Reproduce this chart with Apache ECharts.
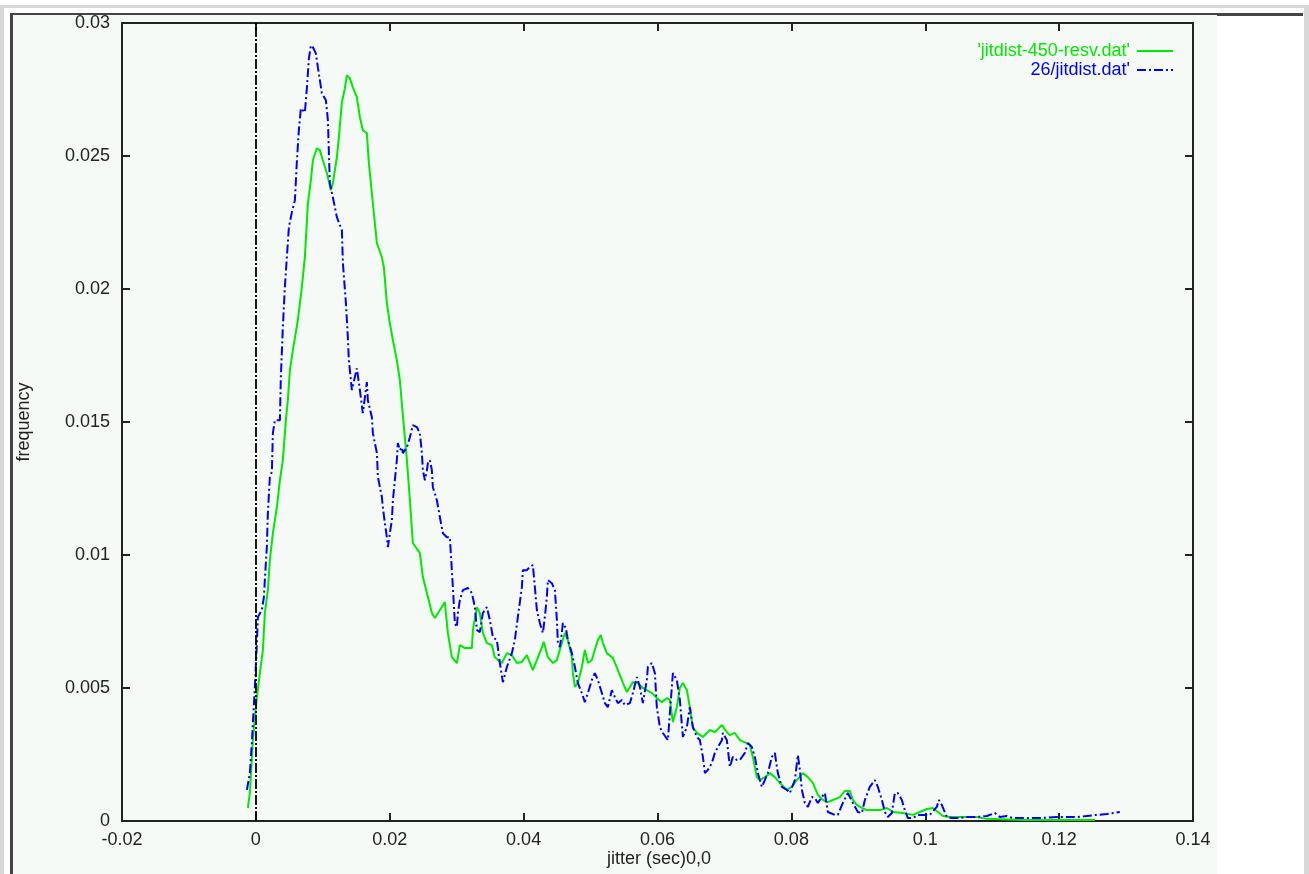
<!DOCTYPE html>
<html>
<head>
<meta charset="utf-8">
<script src="https://cdn.jsdelivr.net/npm/echarts@6/dist/echarts.min.js"></script>
<style>
html,body{margin:0;padding:0;background:#fff;width:1309px;height:874px;overflow:hidden;}
.d{position:absolute;}
#chart{position:absolute;left:0;top:0;width:1309px;height:874px;}
</style>
</head>
<body>
<div class="d" style="left:0;top:5px;width:1309px;height:3px;background:#d8d8d8"></div>
<div class="d" style="left:0;top:5px;width:4px;height:869px;background:#d8d8d8"></div>
<div class="d" style="left:1304px;top:5px;width:5px;height:869px;background:#d8d8d8"></div>
<div class="d" style="left:10px;top:14px;width:1207px;height:860px;background:#f5faf6"></div>
<div class="d" style="left:10px;top:13px;width:1207px;height:2px;background:#444"></div>
<div class="d" style="left:1217px;top:13px;width:86px;height:3px;background:#444"></div>
<div class="d" style="left:10px;top:13px;width:3px;height:861px;background:#444"></div>
<div id="chart"></div>
<script>
// x tick positions (sec) and y tick positions (frequency)
const xTicks = [-0.02, 0, 0.02, 0.04, 0.06, 0.08, 0.1, 0.12, 0.14];
const yTicks = [0, 0.005, 0.01, 0.015, 0.02, 0.025, 0.03];
const seriesNames = ["'jitdist-450-resv.dat'", "26/jitdist.dat'"];
const xLabel = "jitter (sec)0,0";
const yLabel = "frequency";

// 'jitdist-450-resv.dat' : [jitter (sec), frequency]
const greenData = [[-0.00120,0.00049],[-0.00090,0.00105],[-0.00045,0.00304],[0.00015,0.00466],[0.00060,0.00556],[0.00105,0.00643],[0.00134,0.00782],[0.00179,0.00868],[0.00209,0.00981],[0.00254,0.01082],[0.00314,0.01180],[0.00359,0.01281],[0.00403,0.01357],[0.00448,0.01507],[0.00478,0.01582],[0.00508,0.01695],[0.00553,0.01770],[0.00627,0.01883],[0.00687,0.02007],[0.00732,0.02120],[0.00777,0.02322],[0.00822,0.02409],[0.00852,0.02484],[0.00911,0.02529],[0.00956,0.02522],[0.01001,0.02484],[0.01061,0.02435],[0.01120,0.02371],[0.01150,0.02398],[0.01210,0.02495],[0.01240,0.02570],[0.01285,0.02702],[0.01330,0.02755],[0.01359,0.02803],[0.01404,0.02792],[0.01449,0.02758],[0.01509,0.02721],[0.01554,0.02646],[0.01598,0.02597],[0.01658,0.02586],[0.01688,0.02473],[0.01733,0.02360],[0.01778,0.02247],[0.01808,0.02172],[0.01882,0.02120],[0.01912,0.02082],[0.01957,0.01947],[0.02002,0.01871],[0.02047,0.01808],[0.02106,0.01732],[0.02151,0.01657],[0.02196,0.01526],[0.02256,0.01357],[0.02301,0.01206],[0.02345,0.01045],[0.02450,0.01007],[0.02495,0.00917],[0.02570,0.00842],[0.02629,0.00782],[0.02674,0.00763],[0.02749,0.00793],[0.02823,0.00823],[0.02868,0.00707],[0.02928,0.00616],[0.03003,0.00594],[0.03048,0.00661],[0.03122,0.00650],[0.03227,0.00650],[0.03242,0.00718],[0.03302,0.00804],[0.03346,0.00782],[0.03391,0.00707],[0.03451,0.00669],[0.03526,0.00661],[0.03570,0.00616],[0.03615,0.00605],[0.03675,0.00594],[0.03750,0.00631],[0.03824,0.00624],[0.03899,0.00594],[0.03974,0.00598],[0.04048,0.00624],[0.04138,0.00567],[0.04198,0.00605],[0.04273,0.00654],[0.04302,0.00673],[0.04362,0.00616],[0.04437,0.00594],[0.04497,0.00605],[0.04571,0.00669],[0.04616,0.00707],[0.04661,0.00680],[0.04721,0.00616],[0.04736,0.00556],[0.04766,0.00504],[0.04810,0.00519],[0.04870,0.00579],[0.04915,0.00643],[0.04960,0.00594],[0.05019,0.00605],[0.05064,0.00643],[0.05109,0.00680],[0.05154,0.00699],[0.05184,0.00669],[0.05244,0.00631],[0.05333,0.00613],[0.05408,0.00567],[0.05483,0.00519],[0.05542,0.00485],[0.05587,0.00504],[0.05632,0.00522],[0.05707,0.00519],[0.05781,0.00500],[0.05841,0.00492],[0.05916,0.00481],[0.05990,0.00462],[0.06065,0.00447],[0.06140,0.00462],[0.06185,0.00455],[0.06230,0.00372],[0.06289,0.00428],[0.06334,0.00500],[0.06379,0.00519],[0.06439,0.00492],[0.06483,0.00428],[0.06528,0.00353],[0.06588,0.00331],[0.06678,0.00316],[0.06782,0.00342],[0.06857,0.00334],[0.06962,0.00361],[0.07036,0.00334],[0.07081,0.00323],[0.07156,0.00331],[0.07230,0.00304],[0.07335,0.00293],[0.07380,0.00286],[0.07425,0.00241],[0.07484,0.00165],[0.07529,0.00154],[0.07604,0.00165],[0.07679,0.00180],[0.07753,0.00165],[0.07828,0.00143],[0.07932,0.00117],[0.08007,0.00128],[0.08082,0.00154],[0.08172,0.00180],[0.08246,0.00165],[0.08321,0.00143],[0.08396,0.00098],[0.08470,0.00079],[0.08545,0.00071],[0.08620,0.00079],[0.08724,0.00090],[0.08799,0.00113],[0.08874,0.00113],[0.08919,0.00079],[0.08978,0.00060],[0.09053,0.00049],[0.09128,0.00041],[0.09322,0.00041],[0.09426,0.00049],[0.09516,0.00034],[0.09665,0.00030],[0.09815,0.00023],[0.09919,0.00034],[0.10024,0.00045],[0.10114,0.00049],[0.10188,0.00034],[0.10263,0.00019],[0.10367,0.00015],[0.10562,0.00015],[0.10771,0.00015],[0.10920,0.00008],[0.11458,0.00004],[0.11966,0.00004],[0.12534,0.00004]];

// '26/jitdist.dat' : [jitter (sec), frequency]
const blueData = [[-0.00134,0.00117],[-0.00090,0.00180],[-0.00060,0.00293],[-0.00045,0.00368],[-0.00015,0.00504],[0.00015,0.00669],[0.00030,0.00767],[0.00090,0.00793],[0.00120,0.00842],[0.00134,0.00906],[0.00164,0.01030],[0.00179,0.01157],[0.00209,0.01293],[0.00239,0.01312],[0.00254,0.01458],[0.00284,0.01507],[0.00359,0.01507],[0.00373,0.01669],[0.00403,0.01856],[0.00433,0.02007],[0.00463,0.02120],[0.00493,0.02232],[0.00538,0.02289],[0.00583,0.02334],[0.00612,0.02477],[0.00642,0.02597],[0.00672,0.02679],[0.00732,0.02664],[0.00762,0.02755],[0.00792,0.02867],[0.00822,0.02916],[0.00852,0.02909],[0.00896,0.02886],[0.00926,0.02834],[0.00956,0.02785],[0.00986,0.02736],[0.01046,0.02710],[0.01076,0.02634],[0.01105,0.02398],[0.01150,0.02345],[0.01210,0.02270],[0.01285,0.02221],[0.01300,0.02097],[0.01345,0.01947],[0.01374,0.01819],[0.01389,0.01732],[0.01434,0.01620],[0.01509,0.01702],[0.01554,0.01620],[0.01598,0.01533],[0.01658,0.01650],[0.01673,0.01582],[0.01733,0.01518],[0.01748,0.01458],[0.01808,0.01383],[0.01823,0.01293],[0.01882,0.01218],[0.01897,0.01180],[0.01927,0.01120],[0.01957,0.01067],[0.01972,0.01030],[0.02002,0.01082],[0.02032,0.01131],[0.02047,0.01206],[0.02076,0.01281],[0.02106,0.01357],[0.02121,0.01421],[0.02151,0.01394],[0.02181,0.01405],[0.02196,0.01383],[0.02256,0.01405],[0.02301,0.01443],[0.02345,0.01488],[0.02405,0.01481],[0.02450,0.01458],[0.02480,0.01383],[0.02495,0.01319],[0.02525,0.01281],[0.02555,0.01319],[0.02570,0.01345],[0.02599,0.01357],[0.02629,0.01319],[0.02644,0.01255],[0.02704,0.01206],[0.02749,0.01142],[0.02794,0.01082],[0.02853,0.01067],[0.02898,0.01067],[0.02943,0.00879],[0.02973,0.00744],[0.03003,0.00729],[0.03018,0.00782],[0.03048,0.00831],[0.03092,0.00868],[0.03167,0.00876],[0.03227,0.00857],[0.03272,0.00804],[0.03302,0.00718],[0.03346,0.00710],[0.03391,0.00782],[0.03451,0.00804],[0.03496,0.00755],[0.03541,0.00691],[0.03600,0.00680],[0.03645,0.00594],[0.03690,0.00522],[0.03750,0.00579],[0.03824,0.00631],[0.03869,0.00680],[0.03914,0.00767],[0.03974,0.00879],[0.03989,0.00943],[0.04048,0.00943],[0.04093,0.00955],[0.04138,0.00962],[0.04168,0.00879],[0.04198,0.00793],[0.04243,0.00744],[0.04288,0.00707],[0.04317,0.00767],[0.04347,0.00842],[0.04362,0.00906],[0.04422,0.00894],[0.04467,0.00868],[0.04497,0.00755],[0.04512,0.00669],[0.04541,0.00654],[0.04571,0.00707],[0.04586,0.00744],[0.04631,0.00725],[0.04661,0.00680],[0.04721,0.00631],[0.04766,0.00579],[0.04810,0.00519],[0.04870,0.00481],[0.04915,0.00447],[0.04960,0.00481],[0.05019,0.00530],[0.05064,0.00556],[0.05109,0.00530],[0.05169,0.00481],[0.05214,0.00443],[0.05258,0.00428],[0.05318,0.00492],[0.05363,0.00466],[0.05408,0.00443],[0.05468,0.00455],[0.05512,0.00436],[0.05587,0.00443],[0.05632,0.00481],[0.05692,0.00541],[0.05737,0.00504],[0.05781,0.00443],[0.05841,0.00530],[0.05856,0.00579],[0.05916,0.00594],[0.05961,0.00556],[0.05990,0.00428],[0.06035,0.00353],[0.06080,0.00331],[0.06155,0.00304],[0.06185,0.00406],[0.06230,0.00556],[0.06289,0.00530],[0.06334,0.00455],[0.06379,0.00316],[0.06439,0.00353],[0.06483,0.00428],[0.06528,0.00353],[0.06588,0.00316],[0.06633,0.00304],[0.06678,0.00241],[0.06708,0.00180],[0.06752,0.00192],[0.06812,0.00218],[0.06857,0.00256],[0.06902,0.00278],[0.06962,0.00304],[0.06976,0.00331],[0.07036,0.00304],[0.07081,0.00203],[0.07126,0.00241],[0.07186,0.00229],[0.07230,0.00229],[0.07305,0.00256],[0.07350,0.00293],[0.07410,0.00278],[0.07455,0.00241],[0.07499,0.00180],[0.07559,0.00128],[0.07604,0.00154],[0.07649,0.00180],[0.07708,0.00241],[0.07753,0.00256],[0.07798,0.00180],[0.07858,0.00128],[0.07932,0.00117],[0.07977,0.00105],[0.08052,0.00154],[0.08097,0.00248],[0.08127,0.00192],[0.08157,0.00117],[0.08201,0.00068],[0.08246,0.00053],[0.08306,0.00090],[0.08351,0.00086],[0.08396,0.00068],[0.08455,0.00090],[0.08500,0.00105],[0.08545,0.00034],[0.08650,0.00023],[0.08694,0.00023],[0.08769,0.00068],[0.08844,0.00105],[0.08919,0.00068],[0.08993,0.00034],[0.09053,0.00030],[0.09098,0.00079],[0.09172,0.00128],[0.09247,0.00154],[0.09292,0.00128],[0.09352,0.00079],[0.09397,0.00034],[0.09441,0.00015],[0.09501,0.00030],[0.09546,0.00105],[0.09591,0.00105],[0.09650,0.00079],[0.09695,0.00041],[0.09740,0.00011],[0.09815,0.00011],[0.09889,0.00023],[0.09964,0.00023],[0.10069,0.00023],[0.10173,0.00053],[0.10203,0.00079],[0.10248,0.00060],[0.10323,0.00015],[0.10397,0.00011],[0.10517,0.00011],[0.10621,0.00015],[0.10771,0.00015],[0.10920,0.00019],[0.11040,0.00030],[0.11114,0.00015],[0.11219,0.00019],[0.11309,0.00011],[0.11458,0.00011],[0.11712,0.00011],[0.11966,0.00015],[0.12265,0.00015],[0.12414,0.00019],[0.12563,0.00023],[0.12713,0.00026],[0.12907,0.00034]];

const GREEN = '#00ea00';
const BLUE = '#0000ff';
const INK = '#222';
const FONT = '"Liberation Sans", Arial, sans-serif';
const FS = 18;

const chart = echarts.init(document.getElementById('chart'), null, {renderer: 'canvas'});
const fmt = v => String(parseFloat(Number(v).toFixed(4)));
const tickStyle = {inside: true, length: 8, lineStyle: {color: INK, width: 2}};
const lineAx = {show: true, onZero: false, lineStyle: {color: INK, width: 2}};

chart.setOption({
  animation: false,
  backgroundColor: 'transparent',
  grid: {left: 122, top: 23, width: 1071, height: 798, containLabel: false},
  xAxis: [
    {type: 'value', position: 'bottom', min: xTicks[0], max: xTicks[xTicks.length - 1], interval: 0.02,
     axisLine: lineAx, axisTick: tickStyle, splitLine: {show: false},
     axisLabel: {margin: 10, color: INK, fontSize: FS, fontFamily: FONT, formatter: fmt, showMinLabel: true, showMaxLabel: true}},
    {type: 'value', position: 'top', min: xTicks[0], max: xTicks[xTicks.length - 1], interval: 0.02,
     axisLine: lineAx, axisTick: tickStyle, splitLine: {show: false}, axisLabel: {show: false}}
  ],
  yAxis: [
    {type: 'value', position: 'left', min: yTicks[0], max: yTicks[yTicks.length - 1], interval: 0.005,
     axisLine: lineAx, axisTick: tickStyle, splitLine: {show: false},
     axisLabel: {margin: 12, color: INK, fontSize: FS, fontFamily: FONT, formatter: fmt, showMinLabel: true, showMaxLabel: true}},
    {type: 'value', position: 'right', min: yTicks[0], max: yTicks[yTicks.length - 1], interval: 0.005,
     axisLine: lineAx, axisTick: tickStyle, splitLine: {show: false}, axisLabel: {show: false}}
  ],
  series: [
    {name: seriesNames[0], type: 'line', data: greenData, xAxisIndex: 0, yAxisIndex: 0,
     showSymbol: false, symbol: 'none', z: 3,
     lineStyle: {color: GREEN, width: 2},
     markLine: {silent: true, symbol: ['none', 'none'], label: {show: false},
       lineStyle: {color: '#000', width: 1.8, type: [10, 2, 2, 2]},
       data: [{xAxis: 0}]}},
    {name: seriesNames[1], type: 'line', data: blueData, xAxisIndex: 0, yAxisIndex: 0,
     showSymbol: false, symbol: 'none', z: 4,
     lineStyle: {color: BLUE, width: 2, type: [9, 3, 2, 3]}}
  ],
  graphic: [
    {type: 'text', x: 1130, y: 51, style: {text: seriesNames[0], fill: GREEN, font: FS + 'px ' + FONT, align: 'right', verticalAlign: 'middle'}},
    {type: 'line', shape: {x1: 1137, y1: 51, x2: 1173, y2: 51}, style: {stroke: GREEN, lineWidth: 2}},
    {type: 'text', x: 1130, y: 70, style: {text: seriesNames[1], fill: BLUE, font: FS + 'px ' + FONT, align: 'right', verticalAlign: 'middle'}},
    {type: 'line', shape: {x1: 1137, y1: 70, x2: 1173, y2: 70}, style: {stroke: BLUE, lineWidth: 2, lineDash: [9, 3, 2, 3]}},
    {type: 'text', x: 659, y: 859, style: {text: xLabel, fill: INK, font: FS + 'px ' + FONT, align: 'center', verticalAlign: 'middle'}},
    {type: 'text', x: 24, y: 422, rotation: Math.PI / 2, style: {text: yLabel, fill: INK, font: FS + 'px ' + FONT, align: 'center', verticalAlign: 'middle'}}
  ]
});
</script>
</body>
</html>
